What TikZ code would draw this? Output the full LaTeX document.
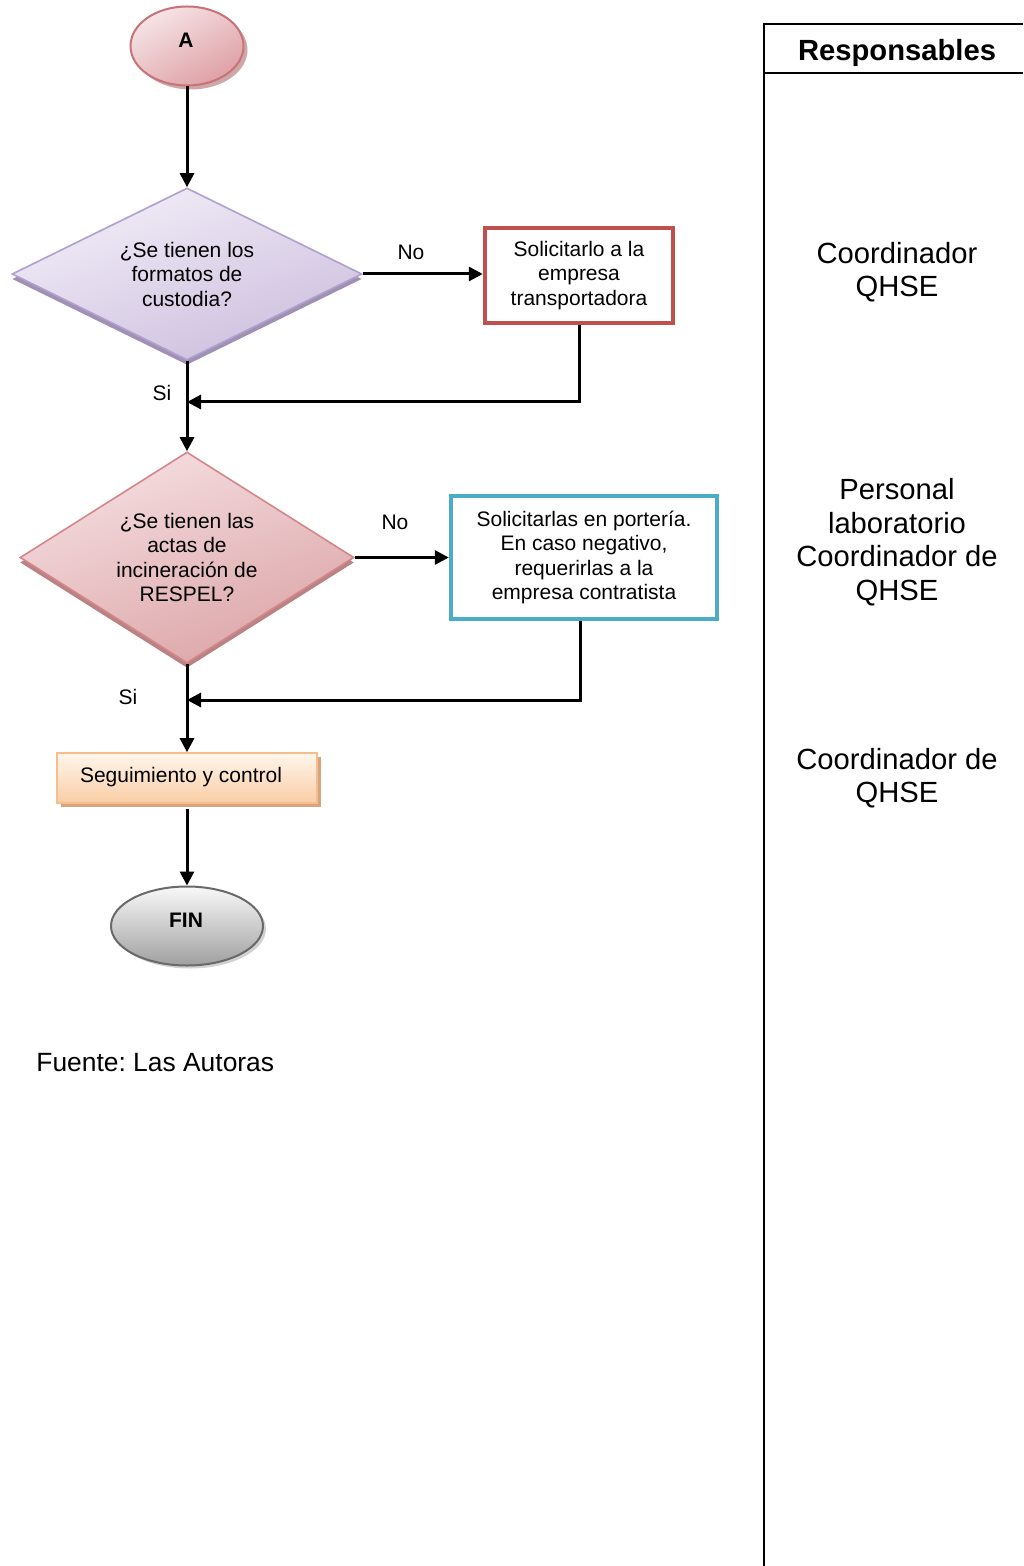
\documentclass[tikz,border=0pt]{standalone}
\usepackage{fontspec}
\setmainfont{Liberation Sans}
\frenchspacing
\usetikzlibrary{shapes.geometric,shadows,arrows.meta}
\definecolor{aborder}{RGB}{200,115,120}
\definecolor{alight}{RGB}{246,228,230}
\definecolor{adark}{RGB}{222,160,165}
\definecolor{pborder}{RGB}{175,160,205}
\definecolor{plight}{RGB}{242,238,248}
\definecolor{pdark}{RGB}{205,190,222}
\definecolor{pshadow}{RGB}{160,145,180}
\definecolor{rborder}{RGB}{212,135,138}
\definecolor{rlight}{RGB}{245,222,224}
\definecolor{rdark}{RGB}{220,165,168}
\definecolor{rshadow}{RGB}{185,130,132}
\definecolor{redbox}{RGB}{192,80,77}
\definecolor{bluebox}{RGB}{75,172,198}
\definecolor{oborder}{RGB}{245,190,140}
\definecolor{olight}{RGB}{255,246,236}
\definecolor{odark}{RGB}{250,205,165}
\definecolor{oshadow}{RGB}{215,165,125}
\definecolor{gborder}{RGB}{105,105,105}
\definecolor{glight}{RGB}{248,248,248}
\definecolor{gdark}{RGB}{160,160,160}
\begin{document}
\begin{tikzpicture}[x=0.5pt,y=-0.5pt,
  txt/.style={font=\fontsize{10.5}{12.25}\selectfont, align=center, inner sep=0pt},
  big/.style={font=\fontsize{14.6}{16.75}\selectfont, align=center, inner sep=0pt},
  flow/.style={line width=1.5pt, -{Triangle[length=7pt,width=7pt]}},
  termA/.style={ellipse, draw=aborder, line width=1pt, minimum width=56.5pt, minimum height=39.5pt, inner sep=0pt,
    top color=alight, bottom color=adark, shading angle=30,
    general shadow={shadow xshift=2pt, shadow yshift=-2pt, fill=rshadow!70}},
  termF/.style={ellipse, draw=gborder, line width=1pt, minimum width=76pt, minimum height=39.5pt, inner sep=0pt,
    top color=glight, bottom color=gdark,
    general shadow={shadow xshift=1.5pt, shadow yshift=-1.5pt, fill=gray!35}},
  decP/.style={diamond, draw=pborder, line width=0.8pt, shape aspect=2, minimum width=175pt, minimum height=86pt, inner sep=0pt,
    top color=plight, bottom color=pdark, shading angle=20,
    general shadow={shadow xshift=0pt, shadow yshift=-2.5pt, fill=pshadow}},
  decR/.style={diamond, draw=rborder, line width=0.8pt, shape aspect=1.6, minimum width=167pt, minimum height=105.5pt, inner sep=0pt,
    top color=rlight, bottom color=rdark, shading angle=20,
    general shadow={shadow xshift=0pt, shadow yshift=-2.5pt, fill=rshadow}},
  procR/.style={rectangle, draw=redbox, line width=2.2pt, fill=white, minimum width=94pt, minimum height=47.5pt, inner sep=0pt},
  procB/.style={rectangle, draw=bluebox, line width=2.2pt, fill=white, minimum width=133pt, minimum height=61.5pt, inner sep=0pt},
  procO/.style={rectangle, draw=oborder, line width=0.8pt, minimum width=130pt, minimum height=25pt, inner sep=0pt,
    top color=olight, bottom color=odark,
    general shadow={shadow xshift=2pt, shadow yshift=-2pt, fill=oshadow}},
]
\useasboundingbox (0,0) rectangle (1023,1566);
\fill[white] (0,0) rectangle (1023,1566);

% flow nodes
\node[termA] (a) at (187,46) {};
\node[txt, font=\fontsize{10.5}{12.25}\selectfont\bfseries] (atxt) at (186,40) {A};
\node[decP, txt] (d1) at (187,274) {¿Se tienen los\\formatos de\\custodia?};
\node[procR, txt] (b1) at (579,275.5) {Solicitarlo a la\\empresa\\transportadora};
\node[decR, txt] (d2) at (187,557.5) {¿Se tienen las\\actas de\\incineración de\\RESPEL?};
\node[procB, txt] (b2) at (584,557.5) {Solicitarlas en portería.\\En caso negativo,\\requerirlas a la\\empresa contratista};
\node[procO] (s) at (187,778) {};
\node[txt] (stxt) at (181,777) {Seguimiento y control};
\node[termF] (fin) at (187,926) {};
\node[txt, font=\fontsize{10.5}{12.25}\selectfont\bfseries] (fintxt) at (186,920) {FIN};

% labels
\node[txt] (no1) at (411,252) {No};
\node[txt] (no2) at (395,522) {No};
\node[txt] (si1) at (162,393) {Si};
\node[txt] (si2) at (128,697) {Si};

% connectors
\coordinate (m1) at (187,402);
\coordinate (m2) at (187,700);
\draw[flow] (d1.east) -- (d1.east -| b1.west);
\draw[flow] (a.south) -- (d1.north);
\draw[flow] (b1.south) |- (m1);
\draw[flow] (d1.south) -- (d2.north);
\draw[flow] (d2.east) -- (d2.east -| b2.west);
\draw[flow] ([xshift=-2pt]b2.south) |- (m2);
\draw[flow] (d2.south) -- (s.north);
\draw[flow] ([yshift=-2.5pt]s.south) -- (fin.north);

% source
\node[font=\fontsize{13.2}{15}\selectfont, anchor=west, inner sep=0pt] (src) at (36,1063) {Fuente: Las Autoras};

% responsables column
\coordinate (tl) at (764,24);
\coordinate (tr) at (1023,24);
\coordinate (bl) at (764,1566);
\coordinate (hl) at (764,73);
\coordinate (hr) at (1023,73);
\draw[line width=1pt] (tr) -- (tl) -- (bl);
\draw[line width=1pt] (hl) -- (hr);
\node[big, font=\fontsize{14.6}{16.75}\selectfont\bfseries] (resp) at (897,53) {Responsables};
\node[big] (r1) at (897,272) {Coordinador\\QHSE};
\node[big] (r2) at (897,542) {Personal\\laboratorio\\Coordinador de\\QHSE};
\node[big] (r3) at (897,778) {Coordinador de\\QHSE};
\end{tikzpicture}
\end{document}
